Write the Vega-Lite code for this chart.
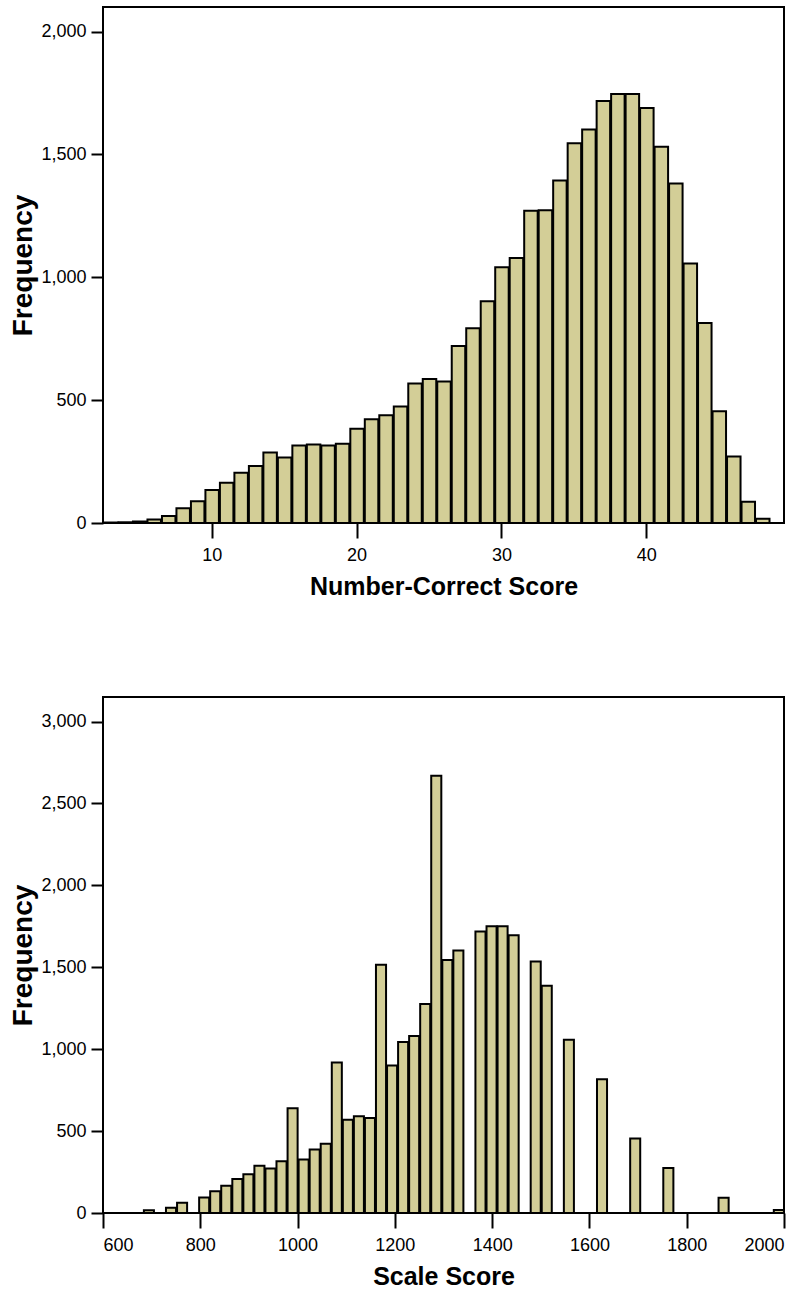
{
  "$schema": "https://vega.github.io/schema/vega-lite/v6.json",
  "padding": {"left": 8, "top": 6, "right": 5, "bottom": 5},
  "bounds": "flush",
  "spacing": 174,
  "config": {
    "font": "Liberation Sans",
    "view": {"stroke": "black", "strokeWidth": 2},
    "bar": {"fill": "#d3ce97", "stroke": "black", "strokeWidth": 2}
  },
  "datasets": {
    "raw": [
      {"lo": 2.5, "hi": 3.5, "n": 2},
      {"lo": 3.5, "hi": 4.5, "n": 3},
      {"lo": 4.5, "hi": 5.5, "n": 6},
      {"lo": 5.5, "hi": 6.5, "n": 14},
      {"lo": 6.5, "hi": 7.5, "n": 28},
      {"lo": 7.5, "hi": 8.5, "n": 60},
      {"lo": 8.5, "hi": 9.5, "n": 89},
      {"lo": 9.5, "hi": 10.5, "n": 134},
      {"lo": 10.5, "hi": 11.5, "n": 164},
      {"lo": 11.5, "hi": 12.5, "n": 204},
      {"lo": 12.5, "hi": 13.5, "n": 232},
      {"lo": 13.5, "hi": 14.5, "n": 287},
      {"lo": 14.5, "hi": 15.5, "n": 267},
      {"lo": 15.5, "hi": 16.5, "n": 315},
      {"lo": 16.5, "hi": 17.5, "n": 319},
      {"lo": 17.5, "hi": 18.5, "n": 315},
      {"lo": 18.5, "hi": 19.5, "n": 323},
      {"lo": 19.5, "hi": 20.5, "n": 384},
      {"lo": 20.5, "hi": 21.5, "n": 422},
      {"lo": 21.5, "hi": 22.5, "n": 439},
      {"lo": 22.5, "hi": 23.5, "n": 474},
      {"lo": 23.5, "hi": 24.5, "n": 568},
      {"lo": 24.5, "hi": 25.5, "n": 586},
      {"lo": 25.5, "hi": 26.5, "n": 576},
      {"lo": 26.5, "hi": 27.5, "n": 720},
      {"lo": 27.5, "hi": 28.5, "n": 793},
      {"lo": 28.5, "hi": 29.5, "n": 902},
      {"lo": 29.5, "hi": 30.5, "n": 1041},
      {"lo": 30.5, "hi": 31.5, "n": 1078},
      {"lo": 31.5, "hi": 32.5, "n": 1271},
      {"lo": 32.5, "hi": 33.5, "n": 1273},
      {"lo": 33.5, "hi": 34.5, "n": 1394},
      {"lo": 34.5, "hi": 35.5, "n": 1545},
      {"lo": 35.5, "hi": 36.5, "n": 1601},
      {"lo": 36.5, "hi": 37.5, "n": 1717},
      {"lo": 37.5, "hi": 38.5, "n": 1746},
      {"lo": 38.5, "hi": 39.5, "n": 1746},
      {"lo": 39.5, "hi": 40.5, "n": 1689},
      {"lo": 40.5, "hi": 41.5, "n": 1531},
      {"lo": 41.5, "hi": 42.5, "n": 1382},
      {"lo": 42.5, "hi": 43.5, "n": 1056},
      {"lo": 43.5, "hi": 44.5, "n": 814},
      {"lo": 44.5, "hi": 45.5, "n": 455},
      {"lo": 45.5, "hi": 46.5, "n": 271},
      {"lo": 46.5, "hi": 47.5, "n": 86},
      {"lo": 47.5, "hi": 48.5, "n": 17}
    ],
    "scale": [
      {"lo": 682.0, "hi": 704.7, "n": 17},
      {"lo": 727.4, "hi": 750.2, "n": 32},
      {"lo": 750.2, "hi": 772.9, "n": 63},
      {"lo": 795.6, "hi": 818.3, "n": 95},
      {"lo": 818.3, "hi": 841.0, "n": 133},
      {"lo": 841.0, "hi": 863.8, "n": 167},
      {"lo": 863.8, "hi": 886.5, "n": 207},
      {"lo": 886.5, "hi": 909.2, "n": 236},
      {"lo": 909.2, "hi": 931.9, "n": 289},
      {"lo": 931.9, "hi": 954.6, "n": 272},
      {"lo": 954.6, "hi": 977.4, "n": 316},
      {"lo": 977.4, "hi": 1000.1, "n": 639},
      {"lo": 1000.1, "hi": 1022.8, "n": 327},
      {"lo": 1022.8, "hi": 1045.5, "n": 388},
      {"lo": 1045.5, "hi": 1068.3, "n": 422},
      {"lo": 1068.3, "hi": 1091.0, "n": 919},
      {"lo": 1091.0, "hi": 1113.7, "n": 569},
      {"lo": 1113.7, "hi": 1136.4, "n": 590},
      {"lo": 1136.4, "hi": 1159.1, "n": 580},
      {"lo": 1159.1, "hi": 1181.9, "n": 1516},
      {"lo": 1181.9, "hi": 1204.6, "n": 900},
      {"lo": 1204.6, "hi": 1227.3, "n": 1044},
      {"lo": 1227.3, "hi": 1250.0, "n": 1080},
      {"lo": 1250.0, "hi": 1272.7, "n": 1276},
      {"lo": 1272.7, "hi": 1295.5, "n": 2669},
      {"lo": 1295.5, "hi": 1318.2, "n": 1545},
      {"lo": 1318.2, "hi": 1340.9, "n": 1602},
      {"lo": 1363.6, "hi": 1386.4, "n": 1718},
      {"lo": 1386.4, "hi": 1409.1, "n": 1750},
      {"lo": 1409.1, "hi": 1431.8, "n": 1750},
      {"lo": 1431.8, "hi": 1454.5, "n": 1695},
      {"lo": 1477.2, "hi": 1499.9, "n": 1535},
      {"lo": 1499.9, "hi": 1522.6, "n": 1387},
      {"lo": 1545.4, "hi": 1568.1, "n": 1058},
      {"lo": 1613.5, "hi": 1636.2, "n": 816},
      {"lo": 1681.7, "hi": 1704.4, "n": 455},
      {"lo": 1749.8, "hi": 1772.6, "n": 274},
      {"lo": 1863.4, "hi": 1886.2, "n": 93},
      {"lo": 1977.0, "hi": 1999.8, "n": 18}
    ]
  },
  "vconcat": [
    {
      "width": 681,
      "height": 516,
      "data": {"name": "raw"},
      "mark": {"type": "bar"},
      "encoding": {
        "x": {
          "field": "lo",
          "type": "quantitative",
          "bin": "binned",
          "scale": {"domain": [2.5, 49.5], "nice": false, "zero": false},
          "axis": {
            "values": [10, 20, 30, 40], "format": "d", "title": "Number-Correct Score",
            "domain": false, "grid": false, "tickColor": "black", "tickWidth": 2, "tickSize": 15,
            "labelColor": "black", "labelFont": "Liberation Sans", "labelFontSize": 18, "labelPadding": 8,
            "titleColor": "black", "titleFont": "Liberation Sans", "titleFontWeight": "bold", "titleFontSize": 25,
            "titleY": 63, "titleBaseline": "middle"
          }
        },
        "x2": {"field": "hi"},
        "y": {
          "field": "n",
          "type": "quantitative",
          "scale": {"domain": [0, 2100], "nice": false},
          "axis": {
            "values": [0, 500, 1000, 1500, 2000], "format": ",.0f", "title": "Frequency",
            "domain": false, "grid": false, "tickColor": "black", "tickWidth": 2, "tickSize": 12,
            "labelColor": "black", "labelFont": "Liberation Sans", "labelFontSize": 18, "labelPadding": 5,
            "titleColor": "black", "titleFont": "Liberation Sans", "titleFontWeight": "bold", "titleFontSize": 28,
            "titleX": -80, "titleBaseline": "middle"
          }
        }
      }
    },
    {
      "width": 681,
      "height": 516,
      "data": {"name": "scale"},
      "mark": {"type": "bar"},
      "encoding": {
        "x": {
          "field": "lo",
          "type": "quantitative",
          "bin": "binned",
          "scale": {"domain": [600, 2000], "nice": false, "zero": false},
          "axis": {
            "values": [600, 800, 1000, 1200, 1400, 1600, 1800, 2000], "format": "d", "title": "Scale Score",
            "domain": false, "grid": false, "tickColor": "black", "tickWidth": 2, "tickSize": 15,
            "labelColor": "black", "labelFont": "Liberation Sans", "labelFontSize": 18, "labelPadding": 8,
            "labelOverlap": false,
            "titleColor": "black", "titleFont": "Liberation Sans", "titleFontWeight": "bold", "titleFontSize": 25,
            "titleY": 63, "titleBaseline": "middle"
          }
        },
        "x2": {"field": "hi"},
        "y": {
          "field": "n",
          "type": "quantitative",
          "scale": {"domain": [0, 3150], "nice": false},
          "axis": {
            "values": [0, 500, 1000, 1500, 2000, 2500, 3000], "format": ",.0f", "title": "Frequency",
            "domain": false, "grid": false, "tickColor": "black", "tickWidth": 2, "tickSize": 12,
            "labelColor": "black", "labelFont": "Liberation Sans", "labelFontSize": 18, "labelPadding": 5,
            "titleColor": "black", "titleFont": "Liberation Sans", "titleFontWeight": "bold", "titleFontSize": 28,
            "titleX": -80, "titleBaseline": "middle"
          }
        }
      }
    }
  ]
}
